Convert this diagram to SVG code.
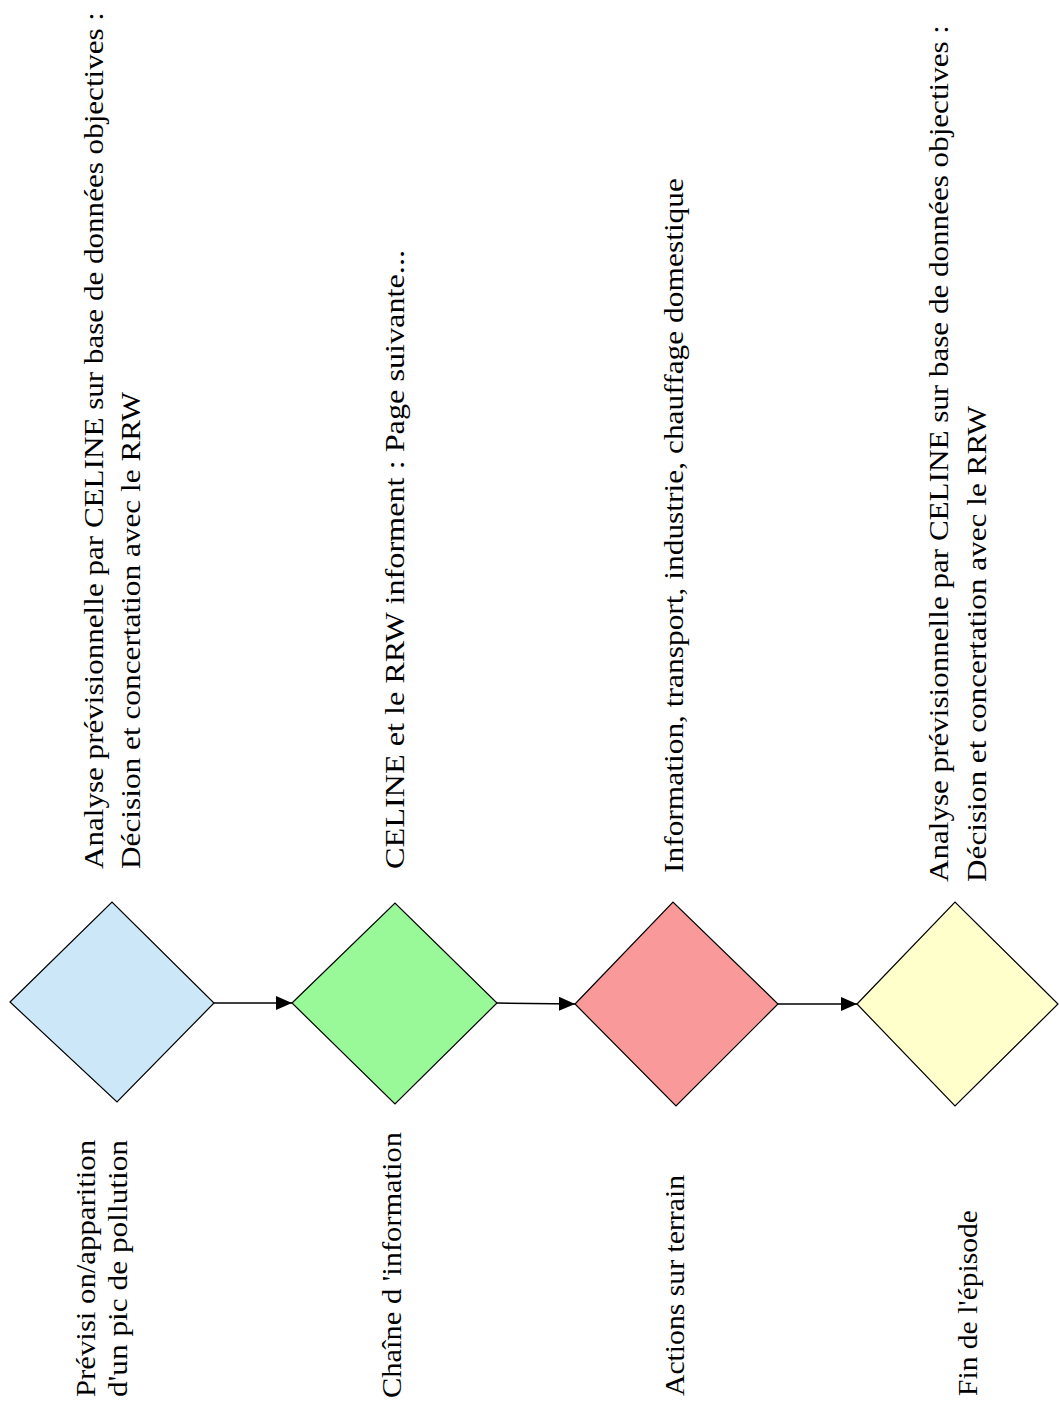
<svg xmlns="http://www.w3.org/2000/svg" width="1059" height="1425" viewBox="0 0 1059 1425">
<defs>
<style>
text{font-family:'Liberation Serif','Times New Roman','DejaVu Serif',serif;font-size:28px;fill:#000}
.d{stroke:#000;stroke-width:1.2}
.c{stroke:#000;stroke-width:1.5;fill:none}
</style>
<marker id="ah" markerWidth="16" markerHeight="14" refX="16" refY="7" orient="auto" markerUnits="userSpaceOnUse">
<path d="M0,0 L16,7 L0,14 Z" fill="#000"/>
</marker>
</defs>
<rect width="1059" height="1425" fill="#fff"/>
<g id="connectors">
<line class="c" x1="214" y1="1003" x2="292" y2="1003" marker-end="url(#ah)"/>
<line class="c" x1="497" y1="1003" x2="575" y2="1004" marker-end="url(#ah)"/>
<line class="c" x1="778" y1="1004" x2="857" y2="1004" marker-end="url(#ah)"/>
</g>
<g id="node1">
<polygon class="d" fill="#cce8f8" points="10,1002 112,902 214,1003 117,1102"/>
<text font-family="Liberation Serif, serif" transform="translate(95,1397) rotate(-90)" textLength="257" lengthAdjust="spacingAndGlyphs">Prévisi on/apparition</text>
<text font-family="Liberation Serif, serif" transform="translate(127,1397) rotate(-90)" textLength="257" lengthAdjust="spacingAndGlyphs">d'un pic de pollution</text>
<text font-family="Liberation Serif, serif" transform="translate(103,869) rotate(-90)" textLength="857" lengthAdjust="spacingAndGlyphs">Analyse prévisionnelle par CELINE sur base de données objectives :</text>
<text font-family="Liberation Serif, serif" transform="translate(140,869) rotate(-90)" textLength="477" lengthAdjust="spacingAndGlyphs">Décision et concertation avec le RRW</text>
</g>
<g id="node2">
<polygon class="d" fill="#99f999" points="292,1003 395,903 497,1003 395,1104"/>
<text font-family="Liberation Serif, serif" transform="translate(401,1398) rotate(-90)" textLength="266" lengthAdjust="spacingAndGlyphs">Chaîne d 'information</text>
<text font-family="Liberation Serif, serif" transform="translate(404,869) rotate(-90)" textLength="619" lengthAdjust="spacingAndGlyphs">CELINE et le RRW informent  : Page suivante...</text>
</g>
<g id="node3">
<polygon class="d" fill="#f99999" points="575,1004 673,902 778,1004 676,1106"/>
<text font-family="Liberation Serif, serif" transform="translate(684,1396) rotate(-90)" textLength="221" lengthAdjust="spacingAndGlyphs">Actions sur terrain</text>
<text font-family="Liberation Serif, serif" transform="translate(683,873) rotate(-90)" textLength="695" lengthAdjust="spacingAndGlyphs">Information, transport, industrie, chauffage domestique</text>
</g>
<g id="node4">
<polygon class="d" fill="#ffffcc" points="857,1004 955,902 1058,1004 955,1106"/>
<text font-family="Liberation Serif, serif" transform="translate(977,1396) rotate(-90)" textLength="186" lengthAdjust="spacingAndGlyphs">Fin de l'épisode</text>
<text font-family="Liberation Serif, serif" transform="translate(948,882) rotate(-90)" textLength="857" lengthAdjust="spacingAndGlyphs">Analyse prévisionnelle par CELINE sur base de données objectives :</text>
<text font-family="Liberation Serif, serif" transform="translate(986,882) rotate(-90)" textLength="476" lengthAdjust="spacingAndGlyphs">Décision et concertation avec le RRW</text>
</g>
</svg>
